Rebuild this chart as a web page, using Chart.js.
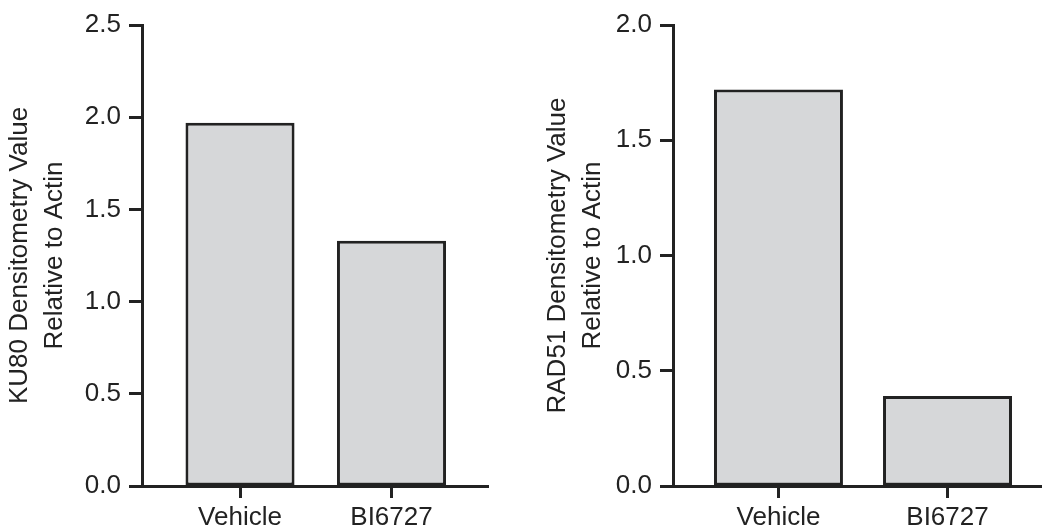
<!DOCTYPE html>
<html>
<head>
<meta charset="utf-8">
<script src="https://cdn.jsdelivr.net/npm/chart.js@4.4.1/dist/chart.umd.min.js"></script>
<style>
  html, body { margin: 0; padding: 0; background: #ffffff; }
  #wrap { position: relative; width: 1042px; height: 531px; overflow: hidden; }
  canvas { position: absolute; top: 0; }
  #ku80 { left: 0; }
  #rad51 { left: 520px; }
</style>
</head>
<body>
<div id="wrap">
  <canvas id="ku80" width="520" height="531"></canvas>
  <canvas id="rad51" width="522" height="531"></canvas>
</div>
<script>
// Treatment groups and densitometry values (relative to actin)
const categories = ['Vehicle', 'BI6727'];
const ku80Values = [1.97, 1.33];
const rad51Values = [1.72, 0.39];
const ku80Ticks = [0, 0.5, 1.0, 1.5, 2.0, 2.5];
const rad51Ticks = [0, 0.5, 1.0, 1.5, 2.0];
const ku80Title = ['KU80 Densitometry Value', 'Relative to Actin'];
const rad51Title = ['RAD51 Densitometry Value', 'Relative to Actin'];

const INK = '#222222';
const FILL = '#d6d7d9';
const FONT = { family: "'Liberation Sans', Arial, Helvetica, sans-serif", size: 26 };

function makeChart(canvasId, values, yTicks, titleLines, g) {
  return new Chart(document.getElementById(canvasId), {
    type: 'bar',
    data: {
      datasets: [{
        data: categories.map((c, i) => ({ x: i, y: values[i] })),
        backgroundColor: FILL,
        borderColor: INK,
        borderWidth: 3,
        borderSkipped: false,
        categoryPercentage: 1,
        barPercentage: g.barPct
      }]
    },
    options: {
      responsive: false,
      animation: false,
      events: [],
      layout: { padding: { left: 0, right: g.padRight, top: 25, bottom: 0 } },
      plugins: { legend: { display: false }, tooltip: { enabled: false } },
      scales: {
        x: {
          type: 'linear',
          offset: false,
          min: g.xMin,
          max: g.xMax,
          afterBuildTicks: s => { s.ticks = categories.map((c, i) => ({ value: i })); },
          afterFit: s => { s.height = 45; },
          ticks: {
            callback: v => categories[v] ?? '',
            color: INK,
            font: FONT,
            padding: 4,
            maxRotation: 0,
            autoSkip: false
          },
          grid: {
            offset: false,
            drawOnChartArea: false,
            drawTicks: true,
            tickLength: 12,
            tickWidth: 3,
            tickColor: INK
          },
          border: { display: true, width: 3, color: INK }
        },
        y: {
          type: 'linear',
          min: yTicks[0],
          max: yTicks[yTicks.length - 1],
          afterBuildTicks: s => { s.ticks = yTicks.map(v => ({ value: v })); },
          afterFit: s => { s.width = g.yWidth; },
          ticks: {
            callback: v => v.toFixed(1),
            color: INK,
            font: FONT,
            padding: 8
          },
          grid: {
            drawOnChartArea: false,
            drawTicks: true,
            tickLength: 13,
            tickWidth: 3,
            tickColor: INK
          },
          border: { display: true, width: 3, color: INK },
          title: {
            display: true,
            text: titleLines,
            color: INK,
            font: { family: FONT.family, size: 26, lineHeight: 1.35 },
            padding: { top: g.titlePad, bottom: 0 }
          }
        }
      }
    }
  });
}

makeChart('ku80', ku80Values, ku80Ticks, ku80Title,
  { yWidth: 142, padRight: 32, xMin: -0.647, xMax: 1.637, barPct: 0.72, titlePad: 2 });
makeChart('rad51', rad51Values, rad51Ticks, rad51Title,
  { yWidth: 153, padRight: 0, xMin: -0.624, xMax: 1.559, barPct: 0.763, titlePad: 20 });
</script>
</body>
</html>
